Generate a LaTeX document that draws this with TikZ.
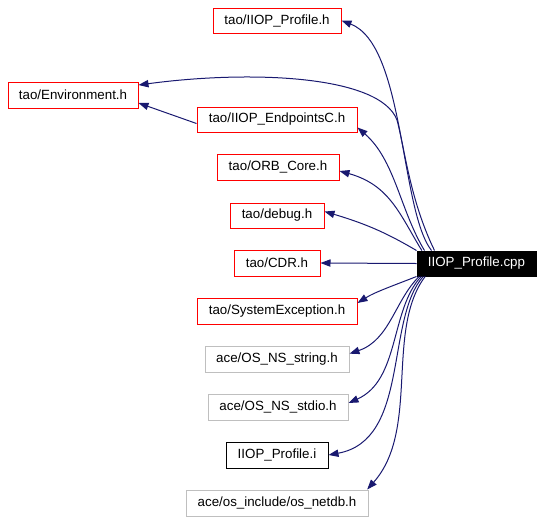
\documentclass[tikz,border=0pt]{standalone}
\usepackage{fontspec}
\setmainfont{Liberation Sans}
\usetikzlibrary{arrows.meta}
\definecolor{edgeblue}{HTML}{191970}
\definecolor{boxgray}{HTML}{BFBFBF}
\tikzset{
  box/.style={draw, line width=0.75pt, inner sep=0pt, font=\fontsize{10pt}{12pt}\selectfont, text=black},
  redbox/.style={box, draw=red},
  graybox/.style={box, draw=boxgray},
  blackbox/.style={box, draw=black},
  mainbox/.style={box, draw=black, fill=black, text=white},
  dep/.style={draw=edgeblue, line width=0.75pt, -{Triangle[length=7.5pt,width=5.5pt]}, arrows={[fill=edgeblue]}},
}
\begin{document}
\begin{tikzpicture}[x=0.75pt,y=-0.75pt]
\useasboundingbox (0,0) rectangle (543,522);
\node[redbox, minimum width=96pt, minimum height=18.75pt] (prof) at (277,20.5) {tao/IIOP\_Profile.h};
\node[redbox, minimum width=97.5pt, minimum height=19.5pt] (env) at (73,95) {tao/Environment.h};
\node[redbox, minimum width=120pt, minimum height=18.75pt] (endp) at (277,119.5) {tao/IIOP\_EndpointsC.h};
\node[redbox, minimum width=91.5pt, minimum height=19.5pt] (orb) at (278,167) {tao/ORB\_Core.h};
\node[redbox, minimum width=70.5pt, minimum height=18.75pt] (debug) at (277,215.5) {tao/debug.h};
\node[redbox, minimum width=64.5pt, minimum height=19.5pt] (cdr) at (277,263) {tao/CDR.h};
\node[mainbox, minimum width=89.25pt, minimum height=18.75pt] (cpp) at (476.5,263.5) {IIOP\_Profile.cpp};
\node[redbox, minimum width=120pt, minimum height=19.5pt] (sysex) at (277,311) {tao/SystemException.h};
\node[graybox, minimum width=108pt, minimum height=19.5pt] (str) at (277,359) {ace/OS\_NS\_string.h};
\node[graybox, minimum width=105pt, minimum height=19.5pt] (stdio) at (278,407) {ace/OS\_NS\_stdio.h};
\node[blackbox, minimum width=76.5pt, minimum height=19.5pt] (profi) at (277,455) {IIOP\_Profile.i};
\node[graybox, minimum width=136.5pt, minimum height=19.5pt] (netdb) at (277,503) {ace/os\_include/os\_netdb.h};

\draw[dep] ([xshift=11.25pt]cpp.north west) .. controls (400,210) and (405,45) .. (prof.east);
\draw[dep] ([xshift=13.5pt]cpp.north west) .. controls (410,200) and (405,150) .. (397,120) .. controls (380,75) and (250,70) .. ([yshift=7.5pt]env.east);
\draw[dep] ([yshift=-3pt]endp.west) -- ([yshift=-6pt]env.east);
\draw[dep] ([xshift=6pt]cpp.north west) .. controls (400,210) and (395,160) .. ([yshift=-6pt]endp.east);
\draw[dep] ([xshift=4pt]cpp.north west) .. controls (400,215) and (390,185) .. ([yshift=-3pt]orb.east);
\draw[dep] (cpp.north west) .. controls (390,235) and (370,225) .. ([yshift=3pt]debug.east);
\draw[dep] (cpp.west) -- (cdr.east);
\draw[dep] (cpp.south west) .. controls (395,285) and (375,292) .. ([yshift=6pt]sysex.east);
\draw[dep] ([xshift=2pt]cpp.south west) .. controls (395,300) and (390,340) .. ([yshift=4pt]str.east);
\draw[dep] ([xshift=3.5pt]cpp.south west) .. controls (390,310) and (400,380) .. ([yshift=3pt]stdio.east);
\draw[dep] ([xshift=5pt]cpp.south west) .. controls (385,320) and (410,440) .. (profi.east);
\draw[dep] ([xshift=6.5pt]cpp.south west) .. controls (385,330) and (420,430) .. ([xshift=-1pt]netdb.north east);
\end{tikzpicture}
\end{document}
